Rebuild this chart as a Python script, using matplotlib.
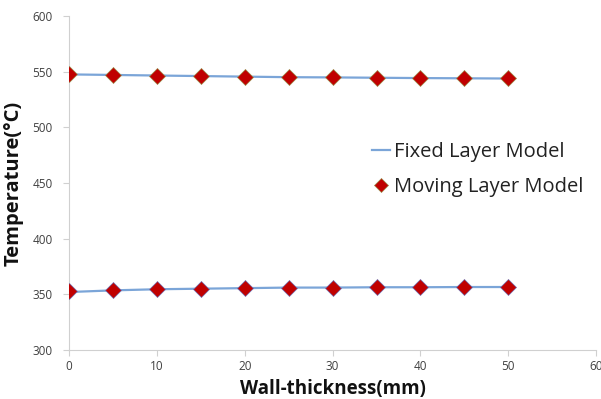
import numpy as np
import matplotlib.pyplot as plt

plt.rcParams['font.family'] = ['Open Sans', 'DejaVu Sans']

thickness = [0, 5, 10, 15, 20, 25, 30, 35, 40, 45, 50]
fixed_upper = [547.5, 547.0, 546.5, 546.0, 545.5, 545.0, 544.8, 544.5, 544.2, 544.0, 543.8]
fixed_lower = [352.0, 353.5, 354.5, 355.0, 355.5, 356.0, 356.0, 356.3, 356.3, 356.5, 356.5]
moving_upper = [547.5, 547.0, 546.5, 546.0, 545.5, 545.0, 545.0, 544.7, 544.5, 544.5, 544.5]
moving_lower = [352.5, 354.0, 354.5, 355.0, 355.5, 356.0, 356.0, 356.5, 356.5, 356.5, 356.5]

fig = plt.figure(figsize=(6.01, 3.99), dpi=100)
ax = fig.add_axes([0.115, 0.123, 0.877, 0.837])

line_col = '#7BA5D8'
mk_col = '#C00000'

ax.plot(thickness, fixed_upper, color=line_col, lw=1.6, label='Fixed Layer Model', zorder=2)
ax.plot(thickness, fixed_lower, color=line_col, lw=1.6, zorder=2)
ax.plot(thickness, moving_upper, ls='none', marker='D', ms=8.5, mfc=mk_col,
        mec='#9a8a4a', mew=0.5, label='Moving Layer Model', zorder=3)
ax.plot(thickness, moving_lower, ls='none', marker='D', ms=8.5, mfc=mk_col,
        mec='#7070b0', mew=0.5, zorder=3)

ax.set_xlim(0, 60)
ax.set_ylim(300, 600)
ax.set_xticks(np.arange(0, 61, 10))
ax.set_yticks(np.arange(300, 601, 50))

for s in ['top', 'right']:
    ax.spines[s].set_visible(False)
for s in ['left', 'bottom']:
    ax.spines[s].set_color('#d0d0d0')
    ax.spines[s].set_linewidth(0.8)
ax.tick_params(colors='#d0d0d0', labelcolor='#404040', labelsize=8.5, length=4, width=0.8)
ax.tick_params(axis='y', pad=8)

ax.set_xlabel('Wall-thickness(mm)', fontsize=13.5, fontweight='bold', color='#111111', labelpad=4)
ax.set_ylabel('Temperature(°C)', fontsize=14.5, fontweight='bold', color='#111111', labelpad=6)

leg = ax.legend(loc='center left', bbox_to_anchor=(0.575, 0.54), frameon=False,
                fontsize=14.5, handlelength=0.9, handletextpad=0.2, labelspacing=0.75,
                markerscale=0.8, borderaxespad=0, borderpad=0)
for t in leg.get_texts():
    t.set_color('#222222')

fig.savefig('out.png', dpi=100)
